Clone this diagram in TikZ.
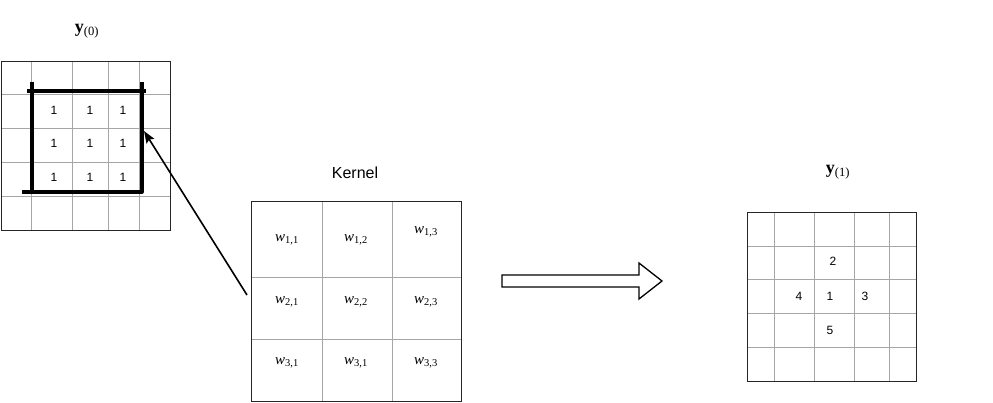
\documentclass[tikz,border=0pt]{standalone}
\usepackage{fontspec}
\setmainfont{Liberation Serif}
\newfontfamily\labfont{Liberation Sans}
\usetikzlibrary{arrows.meta, positioning}

\newcommand{\wlab}[1]{{\itshape w}\textsubscript{#1}}
\newcommand{\ylab}[1]{{\bfseries y}\textsubscript{(#1)}}

\begin{document}
\begin{tikzpicture}[x=1pt, y=-1pt, >={Stealth[length=12pt, width=9pt, inset=2pt]},
    gridline/.style={draw=gray!70, line width=0.8pt},
    border/.style={draw=black!85, line width=0.9pt},
    bracket/.style={line width=3.3pt, line join=round},
    digit/.style={font=\labfont\fontsize{12}{14}\selectfont, inner sep=0pt},
    weight/.style={font=\fontsize{15}{17}\selectfont, inner sep=0pt},
    title/.style={font=\fontsize{18}{20}\selectfont, inner sep=0pt}]
    \useasboundingbox (0,0) rectangle (993,403);

    %define the input grid
    \node[title] (y0) at (87,31) {\ylab{0}};
    \foreach \x in {31,72,108,139} \draw[gridline] (\x,61) -- (\x,230);
    \foreach \y in {94,128,162,196} \draw[gridline] (1,\y) -- (170,\y);
    \draw[border] (1,61) rectangle (170,230);
    \foreach \x [count=\c] in {54,90,123}
      \foreach \y [count=\r] in {110,143,177}
        \node[digit] (in\r\c) at (\x,\y) {1};
    % window of the kernel
    \draw[bracket] (27,91) -- (146,91);
    \draw[bracket] (32,82) -- (32,192);
    \draw[bracket] (22,192) -- (142,192) -- (142,82);

    %define the kernel
    \node[font=\labfont\fontsize{16}{18}\selectfont, inner sep=0pt] (ktitle) at (355,173) {Kernel};
    \foreach \x in {322,392} \draw[gridline] (\x,201) -- (\x,401);
    \foreach \y in {277,339} \draw[gridline] (251,\y) -- (461,\y);
    \node[border, minimum width=210pt, minimum height=200pt, inner sep=0pt] (kernel) at (356,301) {};
    \node[weight] (w11) at (287,240) {\wlab{1,1}};
    \node[weight] (w12) at (356,240) {\wlab{1,2}};
    \node[weight] (w13) at (426,232) {\wlab{1,3}};
    \node[weight] (w21) at (287,302) {\wlab{2,1}};
    \node[weight] (w22) at (356,302) {\wlab{2,2}};
    \node[weight] (w23) at (426,302) {\wlab{2,3}};
    \node[weight] (w31) at (287,363) {\wlab{3,1}};
    \node[weight] (w32) at (356,363) {\wlab{3,1}};
    \node[weight] (w33) at (426,363) {\wlab{3,3}};

    %define the output grid
    \node[title] (y1) at (838,172) {\ylab{1}};
    \foreach \x in {774,814,854,889} \draw[gridline] (\x,212) -- (\x,381);
    \foreach \y in {246,279,313,347} \draw[gridline] (747,\y) -- (916,\y);
    \draw[border] (747,212) rectangle (916,381);
    \node[digit] (out2) at (833,261) {2};
    \node[digit] (out4) at (799,296) {4};
    \node[digit] (out1) at (830,296) {1};
    \node[digit] (out3) at (865,296) {3};
    \node[digit] (out5) at (830,330) {5};

    %define the links
    \coordinate (kstart) at (247,295);
    \coordinate (wintip) at (144,131);
    \draw[->, line width=1.6pt] (kstart) -- (wintip);
    \draw[line width=1.3pt, fill=white] (502,275) -- (639,275) -- (639,263) -- (662,281)
      -- (639,299) -- (639,287) -- (502,287) -- cycle;
\end{tikzpicture}
\end{document}
